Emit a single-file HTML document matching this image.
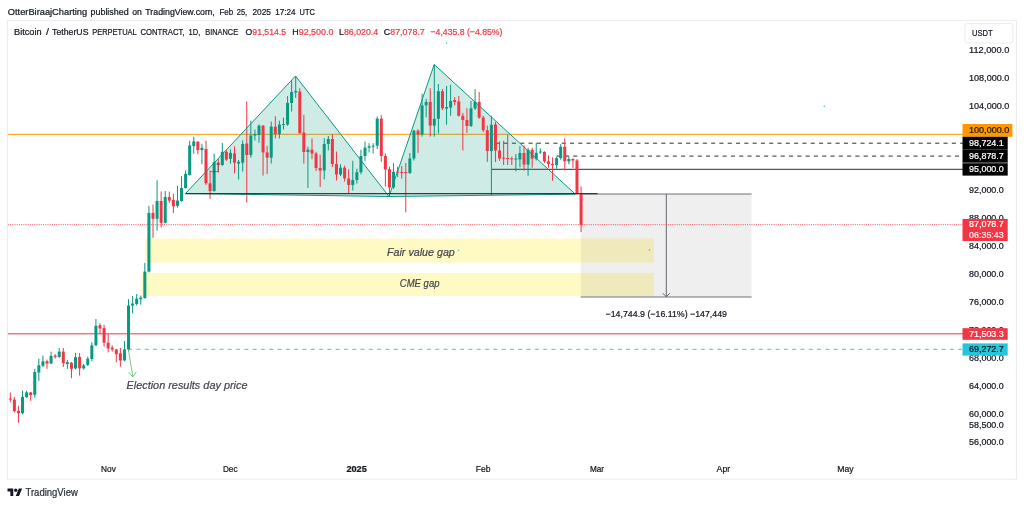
<!DOCTYPE html>
<html lang="en"><head><meta charset="utf-8"><title>BTCUSDT.P chart - TradingView</title>
<style>html,body{margin:0;padding:0;background:#fff;}body{width:1024px;height:506px;overflow:hidden;}svg{display:block;font-family:"Liberation Sans",sans-serif;}</style></head><body>
<svg width="1024" height="506" viewBox="0 0 1024 506">
<rect width="1024" height="506" fill="#ffffff"/>
<text x="7.8" y="14.6" font-size="9.0" fill="#131722" stroke="#131722" stroke-width="0.22" textLength="79.4" lengthAdjust="spacingAndGlyphs">OtterBiraajCharting</text>
<text x="90.5" y="14.6" font-size="9.0" fill="#131722" stroke="#131722" stroke-width="0.22" textLength="38.2" lengthAdjust="spacingAndGlyphs">published</text>
<text x="132.3" y="14.6" font-size="9.0" fill="#131722" stroke="#131722" stroke-width="0.22" textLength="9.6" lengthAdjust="spacingAndGlyphs">on</text>
<text x="145.3" y="14.6" font-size="9.0" fill="#131722" stroke="#131722" stroke-width="0.22" textLength="69.4" lengthAdjust="spacingAndGlyphs">TradingView.com,</text>
<text x="219.5" y="14.6" font-size="9.0" fill="#131722" stroke="#131722" stroke-width="0.22" textLength="13.7" lengthAdjust="spacingAndGlyphs">Feb</text>
<text x="236.7" y="14.6" font-size="9.0" fill="#131722" stroke="#131722" stroke-width="0.22" textLength="10.5" lengthAdjust="spacingAndGlyphs">25,</text>
<text x="252.5" y="14.6" font-size="9.0" fill="#131722" stroke="#131722" stroke-width="0.22" textLength="18.5" lengthAdjust="spacingAndGlyphs">2025</text>
<text x="275.3" y="14.6" font-size="9.0" fill="#131722" stroke="#131722" stroke-width="0.22" textLength="20.3" lengthAdjust="spacingAndGlyphs">17:24</text>
<text x="299.6" y="14.6" font-size="9.0" fill="#131722" stroke="#131722" stroke-width="0.22" textLength="15.3" lengthAdjust="spacingAndGlyphs">UTC</text>
<rect x="7.4" y="20.4" width="1009" height="458.8" fill="#ffffff" stroke="#ebebee" stroke-width="1"/>
<rect x="145.0" y="238.5" width="508.9" height="24.0" fill="#fff9c4"/>
<rect x="141.2" y="272.9" width="512.7" height="23.0" fill="#fff9c4"/>
<rect x="580.7" y="194" width="170.9" height="103" fill="#787b86" fill-opacity="0.12"/>
<line x1="580.7" y1="194" x2="751.6" y2="194" stroke="#6f7178" stroke-width="1"/>
<line x1="580.7" y1="297" x2="751.6" y2="297" stroke="#6f7178" stroke-width="1"/>
<path d="M666.3 194V296.6M662.7 293.2L666.3 296.8L669.9 293.2" fill="none" stroke="#50535e" stroke-width="0.9"/>
<text x="605.6" y="317.4" font-size="9" fill="#131722" stroke="#131722" stroke-width="0.22" textLength="121.4" lengthAdjust="spacingAndGlyphs">&#8722;14,744.9 (&#8722;16.11%) &#8722;147,449</text>
<line x1="7.9" y1="134.3" x2="963" y2="134.3" stroke="#ff9800" stroke-width="1"/>
<line x1="7.9" y1="333.8" x2="963" y2="333.8" stroke="#f23645" stroke-width="1"/>
<line x1="7.9" y1="224.7" x2="963" y2="224.7" stroke="#f23645" stroke-width="1" stroke-dasharray="1 1.2" stroke-opacity="0.9"/>
<line x1="128.2" y1="349.4" x2="963" y2="349.4" stroke="#4dd0e1" stroke-width="1.2" stroke-opacity="0.9" stroke-dasharray="3.9 4.4"/>
<line x1="495.3" y1="143.2" x2="963" y2="143.2" stroke="#2a2e39" stroke-width="1" stroke-dasharray="4.1 4.2"/>
<line x1="556.6" y1="156.1" x2="963" y2="156.1" stroke="#2a2e39" stroke-width="1" stroke-dasharray="4.1 4.2"/>
<line x1="491.6" y1="169.3" x2="963" y2="169.3" stroke="#2a2e39" stroke-width="1"/>
<polygon points="185.5,193.5 295.5,76 389,196.5" fill="#089981" fill-opacity="0.2"/>
<polygon points="389,196.5 434.2,64.5 575.4,194.2" fill="#089981" fill-opacity="0.2"/>
<rect x="9.80" y="392.4" width="1.0" height="9.8" fill="#f23645"/><rect x="8.80" y="398.6" width="3.0" height="1.0" fill="#f23645"/>
<rect x="13.88" y="396.9" width="1.0" height="15.6" fill="#f23645"/><rect x="12.88" y="399.6" width="3.0" height="11.5" fill="#f23645"/>
<rect x="17.95" y="405.8" width="1.0" height="16.9" fill="#f23645"/><rect x="16.95" y="410.8" width="3.0" height="2.4" fill="#f23645"/>
<rect x="22.03" y="390.7" width="1.0" height="23.6" fill="#089981"/><rect x="21.03" y="396.9" width="3.0" height="16.3" fill="#089981"/>
<rect x="26.11" y="390.7" width="1.0" height="7.1" fill="#089981"/><rect x="25.11" y="392.4" width="3.0" height="4.8" fill="#089981"/>
<rect x="30.18" y="391.9" width="1.0" height="8.9" fill="#f23645"/><rect x="29.18" y="392.4" width="3.0" height="2.7" fill="#f23645"/>
<rect x="34.26" y="368.8" width="1.0" height="29.0" fill="#089981"/><rect x="33.26" y="372.0" width="3.0" height="22.8" fill="#089981"/>
<rect x="38.34" y="358.7" width="1.0" height="22.2" fill="#089981"/><rect x="37.34" y="365.2" width="3.0" height="7.3" fill="#089981"/>
<rect x="42.42" y="355.6" width="1.0" height="11.4" fill="#089981"/><rect x="41.42" y="361.3" width="3.0" height="4.5" fill="#089981"/>
<rect x="46.49" y="359.6" width="1.0" height="9.2" fill="#f23645"/><rect x="45.49" y="361.3" width="3.0" height="2.3" fill="#f23645"/>
<rect x="50.57" y="351.6" width="1.0" height="12.4" fill="#089981"/><rect x="49.57" y="356.0" width="3.0" height="7.5" fill="#089981"/>
<rect x="54.65" y="354.2" width="1.0" height="4.5" fill="#f23645"/><rect x="53.65" y="355.6" width="3.0" height="1.3" fill="#f23645"/>
<rect x="58.72" y="348.0" width="1.0" height="9.8" fill="#089981"/><rect x="57.72" y="351.6" width="3.0" height="5.3" fill="#089981"/>
<rect x="62.80" y="348.0" width="1.0" height="19.0" fill="#f23645"/><rect x="61.80" y="351.6" width="3.0" height="11.5" fill="#f23645"/>
<rect x="66.88" y="359.9" width="1.0" height="8.9" fill="#089981"/><rect x="65.88" y="362.2" width="3.0" height="1.8" fill="#089981"/>
<rect x="70.95" y="362.0" width="1.0" height="16.2" fill="#f23645"/><rect x="69.95" y="362.8" width="3.0" height="6.0" fill="#f23645"/>
<rect x="75.03" y="352.8" width="1.0" height="16.5" fill="#089981"/><rect x="74.03" y="357.2" width="3.0" height="11.2" fill="#089981"/>
<rect x="79.11" y="353.0" width="1.0" height="22.6" fill="#f23645"/><rect x="78.11" y="356.9" width="3.0" height="11.5" fill="#f23645"/>
<rect x="83.19" y="364.0" width="1.0" height="5.7" fill="#089981"/><rect x="82.19" y="365.4" width="3.0" height="3.0" fill="#089981"/>
<rect x="87.26" y="356.5" width="1.0" height="9.6" fill="#089981"/><rect x="86.26" y="358.7" width="3.0" height="6.2" fill="#089981"/>
<rect x="91.34" y="342.3" width="1.0" height="19.0" fill="#089981"/><rect x="90.34" y="345.3" width="3.0" height="13.7" fill="#089981"/>
<rect x="95.42" y="319.0" width="1.0" height="26.9" fill="#089981"/><rect x="94.42" y="325.8" width="3.0" height="19.5" fill="#089981"/>
<rect x="99.49" y="323.1" width="1.0" height="10.7" fill="#f23645"/><rect x="98.49" y="325.2" width="3.0" height="3.2" fill="#f23645"/>
<rect x="103.57" y="324.9" width="1.0" height="21.7" fill="#f23645"/><rect x="102.57" y="328.1" width="3.0" height="14.6" fill="#f23645"/>
<rect x="107.65" y="333.8" width="1.0" height="18.6" fill="#f23645"/><rect x="106.65" y="342.7" width="3.0" height="5.7" fill="#f23645"/>
<rect x="111.72" y="345.3" width="1.0" height="6.3" fill="#f23645"/><rect x="110.72" y="347.6" width="3.0" height="1.8" fill="#f23645"/>
<rect x="115.80" y="348.9" width="1.0" height="13.3" fill="#f23645"/><rect x="114.80" y="349.4" width="3.0" height="4.8" fill="#f23645"/>
<rect x="119.88" y="348.0" width="1.0" height="18.7" fill="#f23645"/><rect x="118.88" y="353.3" width="3.0" height="7.1" fill="#f23645"/>
<rect x="123.96" y="340.9" width="1.0" height="20.4" fill="#089981"/><rect x="122.96" y="349.4" width="3.0" height="11.0" fill="#089981"/>
<rect x="128.03" y="299.2" width="1.0" height="51.8" fill="#089981"/><rect x="127.03" y="305.5" width="3.0" height="43.9" fill="#089981"/>
<rect x="132.11" y="296.0" width="1.0" height="17.4" fill="#089981"/><rect x="131.11" y="303.6" width="3.0" height="1.9" fill="#089981"/>
<rect x="136.19" y="294.0" width="1.0" height="11.5" fill="#089981"/><rect x="135.19" y="298.7" width="3.0" height="5.3" fill="#089981"/>
<rect x="140.26" y="295.6" width="1.0" height="9.1" fill="#089981"/><rect x="139.26" y="297.6" width="3.0" height="1.6" fill="#089981"/>
<rect x="144.34" y="262.9" width="1.0" height="35.6" fill="#089981"/><rect x="143.34" y="271.6" width="3.0" height="26.5" fill="#089981"/>
<rect x="148.42" y="205.8" width="1.0" height="66.7" fill="#089981"/><rect x="147.42" y="212.9" width="3.0" height="58.7" fill="#089981"/>
<rect x="152.50" y="204.6" width="1.0" height="33.2" fill="#f23645"/><rect x="151.50" y="212.9" width="3.0" height="5.9" fill="#f23645"/>
<rect x="156.57" y="180.2" width="1.0" height="50.5" fill="#089981"/><rect x="155.57" y="201.0" width="3.0" height="17.8" fill="#089981"/>
<rect x="160.65" y="191.6" width="1.0" height="36.0" fill="#f23645"/><rect x="159.65" y="201.0" width="3.0" height="21.8" fill="#f23645"/>
<rect x="164.73" y="191.0" width="1.0" height="32.5" fill="#089981"/><rect x="163.73" y="197.0" width="3.0" height="25.8" fill="#089981"/>
<rect x="168.80" y="191.6" width="1.0" height="11.4" fill="#f23645"/><rect x="167.80" y="197.0" width="3.0" height="3.6" fill="#f23645"/>
<rect x="172.88" y="194.0" width="1.0" height="18.9" fill="#f23645"/><rect x="171.88" y="199.9" width="3.0" height="6.4" fill="#f23645"/>
<rect x="176.96" y="185.7" width="1.0" height="22.0" fill="#089981"/><rect x="175.96" y="200.6" width="3.0" height="5.2" fill="#089981"/>
<rect x="181.03" y="176.2" width="1.0" height="25.3" fill="#089981"/><rect x="180.03" y="188.0" width="3.0" height="13.0" fill="#089981"/>
<rect x="185.11" y="170.3" width="1.0" height="18.2" fill="#089981"/><rect x="184.11" y="173.8" width="3.0" height="14.2" fill="#089981"/>
<rect x="189.19" y="140.7" width="1.0" height="34.8" fill="#089981"/><rect x="188.19" y="145.4" width="3.0" height="29.6" fill="#089981"/>
<rect x="193.27" y="136.6" width="1.0" height="17.1" fill="#089981"/><rect x="192.27" y="141.4" width="3.0" height="4.7" fill="#089981"/>
<rect x="197.34" y="141.0" width="1.0" height="13.4" fill="#f23645"/><rect x="196.34" y="141.8" width="3.0" height="8.3" fill="#f23645"/>
<rect x="201.42" y="143.7" width="1.0" height="20.6" fill="#089981"/><rect x="200.42" y="147.8" width="3.0" height="2.3" fill="#089981"/>
<rect x="205.50" y="140.7" width="1.0" height="44.3" fill="#f23645"/><rect x="204.50" y="149.0" width="3.0" height="34.3" fill="#f23645"/>
<rect x="209.57" y="170.3" width="1.0" height="28.4" fill="#f23645"/><rect x="208.57" y="183.3" width="3.0" height="7.8" fill="#f23645"/>
<rect x="213.65" y="153.7" width="1.0" height="37.8" fill="#089981"/><rect x="212.65" y="162.0" width="3.0" height="29.1" fill="#089981"/>
<rect x="217.73" y="158.9" width="1.0" height="13.7" fill="#f23645"/><rect x="216.73" y="162.7" width="3.0" height="2.3" fill="#f23645"/>
<rect x="221.80" y="143.0" width="1.0" height="23.0" fill="#089981"/><rect x="220.80" y="151.8" width="3.0" height="13.2" fill="#089981"/>
<rect x="225.88" y="150.1" width="1.0" height="10.7" fill="#f23645"/><rect x="224.88" y="151.8" width="3.0" height="7.8" fill="#f23645"/>
<rect x="229.96" y="149.3" width="1.0" height="14.3" fill="#089981"/><rect x="228.96" y="152.9" width="3.0" height="5.9" fill="#089981"/>
<rect x="234.03" y="146.3" width="1.0" height="27.0" fill="#f23645"/><rect x="233.03" y="153.4" width="3.0" height="9.3" fill="#f23645"/>
<rect x="238.11" y="160.0" width="1.0" height="19.6" fill="#089981"/><rect x="237.11" y="161.8" width="3.0" height="1.8" fill="#089981"/>
<rect x="242.19" y="140.4" width="1.0" height="31.2" fill="#089981"/><rect x="241.19" y="144.0" width="3.0" height="18.7" fill="#089981"/>
<rect x="246.27" y="101.4" width="1.0" height="101.1" fill="#f23645"/><rect x="245.27" y="143.5" width="3.0" height="11.5" fill="#f23645"/>
<rect x="250.34" y="120.7" width="1.0" height="37.0" fill="#089981"/><rect x="249.34" y="135.5" width="3.0" height="19.5" fill="#089981"/>
<rect x="254.42" y="129.6" width="1.0" height="10.9" fill="#089981"/><rect x="253.42" y="134.0" width="3.0" height="1.5" fill="#089981"/>
<rect x="258.50" y="124.3" width="1.0" height="18.5" fill="#089981"/><rect x="257.50" y="125.7" width="3.0" height="9.3" fill="#089981"/>
<rect x="262.57" y="125.0" width="1.0" height="50.5" fill="#f23645"/><rect x="261.57" y="125.7" width="3.0" height="26.7" fill="#f23645"/>
<rect x="266.65" y="145.8" width="1.0" height="28.2" fill="#f23645"/><rect x="265.65" y="152.4" width="3.0" height="5.3" fill="#f23645"/>
<rect x="270.73" y="121.6" width="1.0" height="42.0" fill="#089981"/><rect x="269.73" y="126.6" width="3.0" height="31.1" fill="#089981"/>
<rect x="274.81" y="116.2" width="1.0" height="22.2" fill="#f23645"/><rect x="273.81" y="126.6" width="3.0" height="7.4" fill="#f23645"/>
<rect x="278.88" y="120.7" width="1.0" height="17.7" fill="#089981"/><rect x="277.88" y="124.5" width="3.0" height="9.5" fill="#089981"/>
<rect x="282.96" y="117.7" width="1.0" height="11.9" fill="#089981"/><rect x="281.96" y="124.0" width="3.0" height="1.0" fill="#089981"/>
<rect x="287.04" y="96.1" width="1.0" height="29.6" fill="#089981"/><rect x="286.04" y="102.9" width="3.0" height="21.6" fill="#089981"/>
<rect x="291.11" y="80.1" width="1.0" height="31.4" fill="#089981"/><rect x="290.11" y="92.0" width="3.0" height="11.0" fill="#089981"/>
<rect x="295.19" y="76.0" width="1.0" height="21.9" fill="#089981"/><rect x="294.19" y="91.0" width="3.0" height="1.4" fill="#089981"/>
<rect x="299.27" y="88.1" width="1.0" height="45.9" fill="#f23645"/><rect x="298.27" y="91.5" width="3.0" height="41.5" fill="#f23645"/>
<rect x="303.34" y="114.8" width="1.0" height="48.8" fill="#f23645"/><rect x="302.34" y="132.5" width="3.0" height="19.5" fill="#f23645"/>
<rect x="307.42" y="146.7" width="1.0" height="41.2" fill="#089981"/><rect x="306.42" y="149.7" width="3.0" height="2.3" fill="#089981"/>
<rect x="311.50" y="138.4" width="1.0" height="20.8" fill="#f23645"/><rect x="310.50" y="149.7" width="3.0" height="3.8" fill="#f23645"/>
<rect x="315.57" y="151.8" width="1.0" height="19.2" fill="#f23645"/><rect x="314.57" y="153.5" width="3.0" height="14.5" fill="#f23645"/>
<rect x="319.65" y="154.7" width="1.0" height="32.3" fill="#f23645"/><rect x="318.65" y="168.0" width="3.0" height="2.5" fill="#f23645"/>
<rect x="323.73" y="138.2" width="1.0" height="41.3" fill="#089981"/><rect x="322.73" y="144.0" width="3.0" height="26.5" fill="#089981"/>
<rect x="327.81" y="136.0" width="1.0" height="14.4" fill="#089981"/><rect x="326.81" y="139.0" width="3.0" height="5.0" fill="#089981"/>
<rect x="331.88" y="134.5" width="1.0" height="32.5" fill="#f23645"/><rect x="330.88" y="139.0" width="3.0" height="25.0" fill="#f23645"/>
<rect x="335.96" y="151.5" width="1.0" height="29.0" fill="#f23645"/><rect x="334.96" y="164.0" width="3.0" height="10.5" fill="#f23645"/>
<rect x="340.04" y="164.3" width="1.0" height="11.7" fill="#089981"/><rect x="339.04" y="167.7" width="3.0" height="6.8" fill="#089981"/>
<rect x="344.11" y="165.6" width="1.0" height="15.9" fill="#f23645"/><rect x="343.11" y="167.7" width="3.0" height="10.7" fill="#f23645"/>
<rect x="348.19" y="169.1" width="1.0" height="23.9" fill="#f23645"/><rect x="347.19" y="178.4" width="3.0" height="6.6" fill="#f23645"/>
<rect x="352.27" y="160.8" width="1.0" height="29.7" fill="#089981"/><rect x="351.27" y="180.0" width="3.0" height="5.0" fill="#089981"/>
<rect x="356.35" y="168.7" width="1.0" height="14.9" fill="#089981"/><rect x="355.35" y="172.2" width="3.0" height="7.8" fill="#089981"/>
<rect x="360.42" y="149.8" width="1.0" height="24.5" fill="#089981"/><rect x="359.42" y="156.0" width="3.0" height="16.2" fill="#089981"/>
<rect x="364.50" y="141.5" width="1.0" height="19.3" fill="#089981"/><rect x="363.50" y="147.7" width="3.0" height="8.3" fill="#089981"/>
<rect x="368.58" y="143.2" width="1.0" height="9.3" fill="#089981"/><rect x="367.58" y="146.3" width="3.0" height="1.4" fill="#089981"/>
<rect x="372.65" y="143.2" width="1.0" height="10.3" fill="#089981"/><rect x="371.65" y="145.6" width="3.0" height="1.0" fill="#089981"/>
<rect x="376.73" y="116.6" width="1.0" height="32.4" fill="#089981"/><rect x="375.73" y="118.7" width="3.0" height="27.0" fill="#089981"/>
<rect x="380.81" y="115.2" width="1.0" height="46.6" fill="#f23645"/><rect x="379.81" y="118.7" width="3.0" height="37.3" fill="#f23645"/>
<rect x="384.88" y="153.5" width="1.0" height="33.2" fill="#f23645"/><rect x="383.88" y="156.0" width="3.0" height="13.5" fill="#f23645"/>
<rect x="388.96" y="166.7" width="1.0" height="30.3" fill="#f23645"/><rect x="387.96" y="169.2" width="3.0" height="18.2" fill="#f23645"/>
<rect x="393.04" y="163.0" width="1.0" height="25.9" fill="#089981"/><rect x="392.04" y="171.9" width="3.0" height="15.5" fill="#089981"/>
<rect x="397.12" y="166.7" width="1.0" height="10.3" fill="#f23645"/><rect x="396.12" y="171.4" width="3.0" height="1.2" fill="#f23645"/>
<rect x="401.19" y="165.9" width="1.0" height="12.6" fill="#f23645"/><rect x="400.19" y="171.9" width="3.0" height="1.0" fill="#f23645"/>
<rect x="405.27" y="163.0" width="1.0" height="49.3" fill="#f23645"/><rect x="404.27" y="172.0" width="3.0" height="1.0" fill="#f23645"/>
<rect x="409.35" y="153.0" width="1.0" height="21.0" fill="#089981"/><rect x="408.35" y="158.5" width="3.0" height="14.5" fill="#089981"/>
<rect x="413.42" y="129.8" width="1.0" height="30.7" fill="#089981"/><rect x="412.42" y="130.7" width="3.0" height="27.8" fill="#089981"/>
<rect x="417.50" y="129.2" width="1.0" height="23.7" fill="#f23645"/><rect x="416.50" y="130.7" width="3.0" height="3.8" fill="#f23645"/>
<rect x="421.58" y="93.6" width="1.0" height="43.0" fill="#089981"/><rect x="420.58" y="105.4" width="3.0" height="29.1" fill="#089981"/>
<rect x="425.65" y="98.9" width="1.0" height="18.4" fill="#089981"/><rect x="424.65" y="101.9" width="3.0" height="3.5" fill="#089981"/>
<rect x="429.73" y="88.2" width="1.0" height="48.4" fill="#f23645"/><rect x="428.73" y="101.9" width="3.0" height="23.7" fill="#f23645"/>
<rect x="433.81" y="64.5" width="1.0" height="72.1" fill="#089981"/><rect x="432.81" y="118.8" width="3.0" height="6.8" fill="#089981"/>
<rect x="437.88" y="84.0" width="1.0" height="49.6" fill="#089981"/><rect x="436.88" y="91.2" width="3.0" height="27.6" fill="#089981"/>
<rect x="441.96" y="89.0" width="1.0" height="21.0" fill="#f23645"/><rect x="440.96" y="91.2" width="3.0" height="17.2" fill="#f23645"/>
<rect x="446.04" y="86.0" width="1.0" height="38.7" fill="#089981"/><rect x="445.04" y="107.0" width="3.0" height="1.6" fill="#089981"/>
<rect x="450.12" y="84.7" width="1.0" height="31.1" fill="#089981"/><rect x="449.12" y="101.0" width="3.0" height="6.6" fill="#089981"/>
<rect x="454.19" y="97.0" width="1.0" height="8.4" fill="#f23645"/><rect x="453.19" y="100.0" width="3.0" height="1.9" fill="#f23645"/>
<rect x="458.27" y="96.0" width="1.0" height="20.4" fill="#f23645"/><rect x="457.27" y="101.5" width="3.0" height="14.3" fill="#f23645"/>
<rect x="462.35" y="112.9" width="1.0" height="37.6" fill="#f23645"/><rect x="461.35" y="115.8" width="3.0" height="4.2" fill="#f23645"/>
<rect x="466.42" y="108.3" width="1.0" height="24.7" fill="#f23645"/><rect x="465.42" y="120.0" width="3.0" height="6.0" fill="#f23645"/>
<rect x="470.50" y="101.0" width="1.0" height="26.0" fill="#089981"/><rect x="469.50" y="108.4" width="3.0" height="17.6" fill="#089981"/>
<rect x="474.58" y="89.1" width="1.0" height="20.9" fill="#089981"/><rect x="473.58" y="101.9" width="3.0" height="6.5" fill="#089981"/>
<rect x="478.66" y="92.0" width="1.0" height="26.8" fill="#f23645"/><rect x="477.66" y="101.9" width="3.0" height="15.7" fill="#f23645"/>
<rect x="482.73" y="115.8" width="1.0" height="16.4" fill="#f23645"/><rect x="481.73" y="117.6" width="3.0" height="12.6" fill="#f23645"/>
<rect x="486.81" y="125.6" width="1.0" height="36.2" fill="#f23645"/><rect x="485.81" y="130.2" width="3.0" height="20.8" fill="#f23645"/>
<rect x="490.89" y="115.8" width="1.0" height="79.3" fill="#089981"/><rect x="489.89" y="124.8" width="3.0" height="26.2" fill="#089981"/>
<rect x="494.96" y="122.0" width="1.0" height="40.0" fill="#f23645"/><rect x="493.96" y="124.5" width="3.0" height="26.0" fill="#f23645"/>
<rect x="499.04" y="141.5" width="1.0" height="19.4" fill="#f23645"/><rect x="498.04" y="150.5" width="3.0" height="7.9" fill="#f23645"/>
<rect x="503.12" y="140.8" width="1.0" height="24.2" fill="#f23645"/><rect x="502.12" y="157.7" width="3.0" height="1.0" fill="#f23645"/>
<rect x="507.19" y="134.6" width="1.0" height="30.4" fill="#f23645"/><rect x="506.19" y="158.0" width="3.0" height="1.0" fill="#f23645"/>
<rect x="511.27" y="156.7" width="1.0" height="8.3" fill="#f23645"/><rect x="510.27" y="158.3" width="3.0" height="1.0" fill="#f23645"/>
<rect x="515.35" y="154.0" width="1.0" height="17.4" fill="#089981"/><rect x="514.35" y="158.5" width="3.0" height="1.0" fill="#089981"/>
<rect x="519.42" y="146.0" width="1.0" height="21.3" fill="#089981"/><rect x="518.42" y="153.0" width="3.0" height="6.5" fill="#089981"/>
<rect x="523.50" y="145.4" width="1.0" height="25.2" fill="#f23645"/><rect x="522.50" y="153.0" width="3.0" height="11.6" fill="#f23645"/>
<rect x="527.58" y="147.7" width="1.0" height="28.1" fill="#089981"/><rect x="526.58" y="149.8" width="3.0" height="14.8" fill="#089981"/>
<rect x="531.66" y="147.7" width="1.0" height="20.1" fill="#f23645"/><rect x="530.66" y="149.8" width="3.0" height="8.8" fill="#f23645"/>
<rect x="535.73" y="142.8" width="1.0" height="17.6" fill="#089981"/><rect x="534.73" y="152.8" width="3.0" height="6.0" fill="#089981"/>
<rect x="539.81" y="148.4" width="1.0" height="5.6" fill="#089981"/><rect x="538.81" y="151.5" width="3.0" height="1.0" fill="#089981"/>
<rect x="543.89" y="151.2" width="1.0" height="11.8" fill="#f23645"/><rect x="542.89" y="152.0" width="3.0" height="9.4" fill="#f23645"/>
<rect x="547.96" y="155.3" width="1.0" height="12.5" fill="#f23645"/><rect x="546.96" y="161.4" width="3.0" height="2.6" fill="#f23645"/>
<rect x="552.04" y="157.4" width="1.0" height="23.4" fill="#f23645"/><rect x="551.04" y="164.0" width="3.0" height="1.2" fill="#f23645"/>
<rect x="556.12" y="156.7" width="1.0" height="12.0" fill="#089981"/><rect x="555.12" y="158.1" width="3.0" height="7.1" fill="#089981"/>
<rect x="560.19" y="144.1" width="1.0" height="15.7" fill="#089981"/><rect x="559.19" y="146.8" width="3.0" height="11.3" fill="#089981"/>
<rect x="564.27" y="138.3" width="1.0" height="32.1" fill="#f23645"/><rect x="563.27" y="146.8" width="3.0" height="14.4" fill="#f23645"/>
<rect x="568.35" y="156.2" width="1.0" height="8.0" fill="#089981"/><rect x="567.35" y="159.0" width="3.0" height="2.5" fill="#089981"/>
<rect x="572.43" y="158.2" width="1.0" height="9.8" fill="#f23645"/><rect x="571.43" y="159.0" width="3.0" height="1.5" fill="#f23645"/>
<rect x="576.50" y="159.0" width="1.0" height="35.8" fill="#f23645"/><rect x="575.50" y="160.5" width="3.0" height="33.1" fill="#f23645"/>
<rect x="580.58" y="186.5" width="1.0" height="45.5" fill="#f23645"/><rect x="579.58" y="193.0" width="3.0" height="31.8" fill="#f23645"/>
<polygon points="185.5,193.5 295.5,76 389,196.5" fill="none" stroke="#089981" stroke-width="1" stroke-linejoin="round"/>
<polygon points="389,196.5 434.2,64.5 575.4,194.2" fill="none" stroke="#089981" stroke-width="1" stroke-linejoin="round"/>
<line x1="185.5" y1="193.7" x2="597.6" y2="193.7" stroke="#2a2e39" stroke-width="1.3" stroke-opacity="0.92"/>
<path d="M210.2 171.6H218.2V162.7" fill="none" stroke="#2a2e39" stroke-width="0.6" stroke-opacity="0.8"/>
<path d="M128.4 349.4L132.8 376.6M128.5 372.3L132.8 376.8L136.3 371.8" fill="none" stroke="#5cb860" stroke-width="0.9" stroke-opacity="0.9"/>
<text x="126.5" y="389.2" font-size="11.2" fill="#434651" stroke="#434651" stroke-width="0.22" textLength="121.0" lengthAdjust="spacingAndGlyphs" font-style="italic">Election results day price</text>
<text x="387.0" y="255.9" font-size="11.2" fill="#434651" stroke="#434651" stroke-width="0.22" textLength="67.8" lengthAdjust="spacingAndGlyphs" font-style="italic">Fair value gap</text>
<text x="399.8" y="287.4" font-size="11.2" fill="#434651" stroke="#434651" stroke-width="0.22" textLength="39.7" lengthAdjust="spacingAndGlyphs" font-style="italic">CME gap</text>
<circle cx="458.5" cy="250.3" r="0.8" fill="#26c6da"/>
<circle cx="649.4" cy="250.0" r="0.8" fill="#26c6da"/>
<circle cx="446.6" cy="43.0" r="0.8" fill="#26c6da"/>
<circle cx="824.3" cy="106.3" r="0.8" fill="#26c6da"/>
<text x="14.0" y="35.0" font-size="9.0" fill="#131722" stroke="#131722" stroke-width="0.22" textLength="27.6" lengthAdjust="spacingAndGlyphs">Bitcoin</text>
<text x="46.0" y="35.0" font-size="9.0" fill="#131722" stroke="#131722" stroke-width="0.22" textLength="3.0" lengthAdjust="spacingAndGlyphs">/</text>
<text x="52.1" y="35.0" font-size="9.0" fill="#131722" stroke="#131722" stroke-width="0.22" textLength="36.4" lengthAdjust="spacingAndGlyphs">TetherUS</text>
<text x="92.2" y="35.0" font-size="9.0" fill="#131722" stroke="#131722" stroke-width="0.22" textLength="44.6" lengthAdjust="spacingAndGlyphs">PERPETUAL</text>
<text x="140.5" y="35.0" font-size="9.0" fill="#131722" stroke="#131722" stroke-width="0.22" textLength="43.9" lengthAdjust="spacingAndGlyphs">CONTRACT,</text>
<text x="188.6" y="35.0" font-size="9.0" fill="#131722" stroke="#131722" stroke-width="0.22" textLength="11.7" lengthAdjust="spacingAndGlyphs">1D,</text>
<text x="205.2" y="35.0" font-size="9.0" fill="#131722" stroke="#131722" stroke-width="0.22" textLength="33.0" lengthAdjust="spacingAndGlyphs">BINANCE</text>
<text x="245.6" y="35.0" font-size="9.2" fill="#131722" stroke="#131722" stroke-width="0.22" textLength="40.4" lengthAdjust="spacingAndGlyphs">O<tspan fill="#f23645" stroke="#f23645">91,514.5</tspan></text>
<text x="292.3" y="35.0" font-size="9.2" fill="#131722" stroke="#131722" stroke-width="0.22" textLength="41.1" lengthAdjust="spacingAndGlyphs">H<tspan fill="#f23645" stroke="#f23645">92,500.0</tspan></text>
<text x="339.0" y="35.0" font-size="9.2" fill="#131722" stroke="#131722" stroke-width="0.22" textLength="39.2" lengthAdjust="spacingAndGlyphs">L<tspan fill="#f23645" stroke="#f23645">86,020.4</tspan></text>
<text x="383.8" y="35.0" font-size="9.2" fill="#131722" stroke="#131722" stroke-width="0.22" textLength="41.0" lengthAdjust="spacingAndGlyphs">C<tspan fill="#f23645" stroke="#f23645">87,078.7</tspan></text>
<text x="430.5" y="35.0" font-size="9.2" fill="#f23645" stroke="#f23645" stroke-width="0.22" textLength="71.9" lengthAdjust="spacingAndGlyphs">&#8722;4,435.8 (&#8722;4.85%)</text>
<rect x="965" y="23.6" width="48" height="19.4" rx="2.5" fill="#ffffff" stroke="#ebebee" stroke-width="1"/>
<text x="972.0" y="36.1" font-size="9" fill="#131722" stroke="#131722" stroke-width="0.22" textLength="20.7" lengthAdjust="spacingAndGlyphs">USDT</text>
<text x="969.0" y="52.9" font-size="9" fill="#131722" stroke="#131722" stroke-width="0.22" textLength="40.3" lengthAdjust="spacingAndGlyphs">112,000.0</text>
<text x="969.0" y="80.9" font-size="9" fill="#131722" stroke="#131722" stroke-width="0.22" textLength="40.3" lengthAdjust="spacingAndGlyphs">108,000.0</text>
<text x="969.0" y="108.9" font-size="9" fill="#131722" stroke="#131722" stroke-width="0.22" textLength="40.3" lengthAdjust="spacingAndGlyphs">104,000.0</text>
<text x="969.0" y="192.9" font-size="9" fill="#131722" stroke="#131722" stroke-width="0.22" textLength="34.8" lengthAdjust="spacingAndGlyphs">92,000.0</text>
<text x="969.0" y="220.9" font-size="9" fill="#131722" stroke="#131722" stroke-width="0.22" textLength="34.8" lengthAdjust="spacingAndGlyphs">88,000.0</text>
<text x="969.0" y="248.9" font-size="9" fill="#131722" stroke="#131722" stroke-width="0.22" textLength="34.8" lengthAdjust="spacingAndGlyphs">84,000.0</text>
<text x="969.0" y="276.9" font-size="9" fill="#131722" stroke="#131722" stroke-width="0.22" textLength="34.8" lengthAdjust="spacingAndGlyphs">80,000.0</text>
<text x="969.0" y="305.0" font-size="9" fill="#131722" stroke="#131722" stroke-width="0.22" textLength="34.8" lengthAdjust="spacingAndGlyphs">76,000.0</text>
<text x="969.0" y="333.1" font-size="9" fill="#131722" stroke="#131722" stroke-width="0.22" textLength="34.8" lengthAdjust="spacingAndGlyphs">72,000.0</text>
<text x="969.0" y="361.1" font-size="9" fill="#131722" stroke="#131722" stroke-width="0.22" textLength="34.8" lengthAdjust="spacingAndGlyphs">68,000.0</text>
<text x="969.0" y="389.2" font-size="9" fill="#131722" stroke="#131722" stroke-width="0.22" textLength="34.8" lengthAdjust="spacingAndGlyphs">64,000.0</text>
<text x="969.0" y="417.3" font-size="9" fill="#131722" stroke="#131722" stroke-width="0.22" textLength="34.8" lengthAdjust="spacingAndGlyphs">60,000.0</text>
<text x="969.0" y="427.8" font-size="9" fill="#131722" stroke="#131722" stroke-width="0.22" textLength="34.8" lengthAdjust="spacingAndGlyphs">58,500.0</text>
<text x="969.0" y="445.4" font-size="9" fill="#131722" stroke="#131722" stroke-width="0.22" textLength="34.8" lengthAdjust="spacingAndGlyphs">56,000.0</text>
<rect x="962.5" y="124.0" width="49.9" height="12.8" fill="#ff9800"/>
<text x="969.0" y="133.3" font-size="9" fill="#131722" stroke="#131722" stroke-width="0.22" textLength="40.3" lengthAdjust="spacingAndGlyphs">100,000.0</text>
<rect x="962.5" y="136.8" width="45.2" height="12.9" fill="#000000"/>
<text x="969.0" y="146.2" font-size="9" fill="#ffffff" stroke="#ffffff" stroke-width="0.22" textLength="34.8" lengthAdjust="spacingAndGlyphs">98,724.1</text>
<rect x="962.5" y="149.7" width="45.2" height="13.0" fill="#000000"/>
<text x="969.0" y="159.1" font-size="9" fill="#ffffff" stroke="#ffffff" stroke-width="0.22" textLength="34.8" lengthAdjust="spacingAndGlyphs">96,878.7</text>
<rect x="962.5" y="163.2" width="45.2" height="12.4" fill="#000000"/>
<text x="969.0" y="172.3" font-size="9" fill="#ffffff" stroke="#ffffff" stroke-width="0.22" textLength="34.8" lengthAdjust="spacingAndGlyphs">95,000.0</text>
<rect x="962.5" y="162.6" width="45.2" height="0.7" fill="#50535e"/>
<rect x="962.5" y="218.9" width="45.2" height="22.1" fill="#f23645"/>
<text x="969.0" y="227.3" font-size="9" fill="#ffffff" stroke="#ffffff" stroke-width="0.22" textLength="34.8" lengthAdjust="spacingAndGlyphs">87,078.7</text>
<text x="969.0" y="238.0" font-size="9" fill="#ffffff" stroke="#ffffff" stroke-width="0.22" textLength="34.8" lengthAdjust="spacingAndGlyphs" fill-opacity="0.8">06:35:43</text>
<rect x="962.5" y="328.2" width="45.2" height="11.6" fill="#f23645"/>
<text x="969.0" y="336.9" font-size="9" fill="#ffffff" stroke="#ffffff" stroke-width="0.22" textLength="34.8" lengthAdjust="spacingAndGlyphs">71,503.3</text>
<rect x="962.5" y="343.4" width="45.2" height="12.2" fill="#26c6da"/>
<text x="969.0" y="352.4" font-size="9" fill="#131722" stroke="#131722" stroke-width="0.22" textLength="34.8" lengthAdjust="spacingAndGlyphs">69,272.7</text>
<text x="101.1" y="472.4" font-size="9" fill="#131722" stroke="#131722" stroke-width="0.22" textLength="14.8" lengthAdjust="spacingAndGlyphs">Nov</text>
<text x="222.9" y="472.4" font-size="9" fill="#131722" stroke="#131722" stroke-width="0.22" textLength="14.6" lengthAdjust="spacingAndGlyphs">Dec</text>
<text x="475.8" y="472.4" font-size="9" fill="#131722" stroke="#131722" stroke-width="0.22" textLength="14.7" lengthAdjust="spacingAndGlyphs">Feb</text>
<text x="590.0" y="472.4" font-size="9" fill="#131722" stroke="#131722" stroke-width="0.22" textLength="14.1" lengthAdjust="spacingAndGlyphs">Mar</text>
<text x="716.6" y="472.4" font-size="9" fill="#131722" stroke="#131722" stroke-width="0.22" textLength="13.6" lengthAdjust="spacingAndGlyphs">Apr</text>
<text x="837.2" y="472.4" font-size="9" fill="#131722" stroke="#131722" stroke-width="0.22" textLength="16.4" lengthAdjust="spacingAndGlyphs">May</text>
<text x="346.4" y="472.4" font-size="9" fill="#131722" stroke="#131722" stroke-width="0.22" textLength="20.4" lengthAdjust="spacingAndGlyphs" font-weight="bold">2025</text>
<g transform="translate(7.5,486.95) scale(0.412)" fill="#131722"><path d="M14 22H7V11H0V4h14v18zM28 22h-8l7.5-18h8L28 22z"/><circle cx="20" cy="8" r="4"/></g>
<text x="25.5" y="496.2" font-size="10.2" fill="#2a2e39" stroke="#2a2e39" stroke-width="0.22" textLength="52.3" lengthAdjust="spacingAndGlyphs">TradingView</text>
</svg></body></html>
